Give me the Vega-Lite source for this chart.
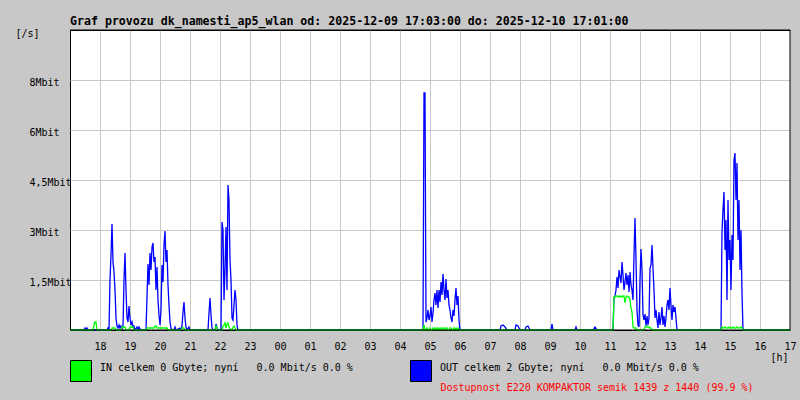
{
"$schema": "https://vega.github.io/schema/vega-lite/v6.json",
"width": 720, "height": 300,
"autosize": {"type": "none"},
"padding": {"left": 70, "top": 30, "right": 10, "bottom": 70},
"background": "#c8c8c8",
"view": {"fill": "#ffffff", "stroke": "#000000", "strokeWidth": 1},
"title": {"text": "Graf provozu dk_namesti_ap5_wlan od: 2025-12-09 17:03:00 do: 2025-12-10 17:01:00", "anchor": "start", "frame": "group", "font": "DejaVu Sans Mono", "fontSize": 11.6, "fontWeight": "bold", "color": "black", "baseline": "alphabetic", "offset": -9},
"data": {"values": [
{"m":0,"out":0,"in":0},{"m":28,"out":0,"in":0},{"m":30,"out":0.06,"in":0},{"m":32,"out":0,"in":0},{"m":34,"out":0.06,"in":0},{"m":36,"out":0,"in":0},
{"m":46,"out":0,"in":0},{"m":48,"out":0,"in":0.15},{"m":50,"out":0,"in":0.24},{"m":52,"out":0,"in":0.24},{"m":54,"out":0,"in":0},
{"m":74,"out":0,"in":0},{"m":76,"out":0.06,"in":0},{"m":78,"out":0,"in":0},{"m":80,"out":1.5,"in":0},{"m":82,"out":2.25,"in":0},{"m":84,"out":3.18,"in":0.06},{"m":86,"out":2.04,"in":0.06},{"m":88,"out":1.74,"in":0.06},{"m":90,"out":1.2,"in":0.06},{"m":92,"out":0.36,"in":0},{"m":94,"out":0.12,"in":0},{"m":96,"out":0.06,"in":0},{"m":98,"out":0.15,"in":0},{"m":100,"out":0.06,"in":0},{"m":102,"out":0.12,"in":0},{"m":104,"out":0.03,"in":0.09},{"m":106,"out":0.09,"in":0.09},{"m":108,"out":1.5,"in":0.09},{"m":110,"out":2.31,"in":0.09},{"m":112,"out":1.2,"in":0},{"m":114,"out":0.36,"in":0},{"m":116,"out":0.24,"in":0},{"m":118,"out":0.72,"in":0},{"m":120,"out":0.36,"in":0.09},{"m":122,"out":0.15,"in":0.09},{"m":124,"out":0.24,"in":0.09},{"m":126,"out":0.09,"in":0.09},{"m":128,"out":0.12,"in":0},{"m":130,"out":0,"in":0},{"m":134,"out":0.09,"in":0},{"m":136,"out":0,"in":0},{"m":138,"out":0.09,"in":0},{"m":142,"out":0,"in":0},
{"m":152,"out":0,"in":0},{"m":154,"out":0.99,"in":0.06},{"m":156,"out":1.98,"in":0.06},{"m":158,"out":1.35,"in":0.06},{"m":160,"out":2.31,"in":0.06},{"m":162,"out":1.8,"in":0.06},{"m":164,"out":2.49,"in":0.06},{"m":166,"out":2.61,"in":0.06},{"m":168,"out":2.04,"in":0.06},{"m":170,"out":2.19,"in":0.12},{"m":172,"out":1.2,"in":0.12},{"m":174,"out":1.89,"in":0.06},{"m":176,"out":0.9,"in":0.06},{"m":178,"out":0.45,"in":0.06},{"m":180,"out":0.15,"in":0.06},{"m":182,"out":0.6,"in":0.06},{"m":184,"out":1.95,"in":0.06},{"m":186,"out":1.44,"in":0.06},{"m":188,"out":2.55,"in":0.06},{"m":190,"out":2.97,"in":0.06},{"m":192,"out":2.04,"in":0.06},{"m":194,"out":2.4,"in":0.06},{"m":196,"out":1.35,"in":0},{"m":198,"out":0.75,"in":0},{"m":200,"out":0.24,"in":0},{"m":202,"out":0.06,"in":0},{"m":204,"out":0,"in":0},{"m":208,"out":0,"in":0},{"m":210,"out":0.09,"in":0},{"m":212,"out":0,"in":0},{"m":220,"out":0.06,"in":0},{"m":222,"out":0,"in":0},{"m":224,"out":0.12,"in":0.06},{"m":226,"out":0.54,"in":0.06},{"m":228,"out":0.84,"in":0.06},{"m":230,"out":0.36,"in":0},{"m":232,"out":0.09,"in":0},{"m":234,"out":0,"in":0},{"m":238,"out":0.09,"in":0},{"m":240,"out":0,"in":0},
{"m":276,"out":0,"in":0},{"m":278,"out":0.51,"in":0},{"m":280,"out":0.96,"in":0},{"m":282,"out":0.45,"in":0},{"m":284,"out":0.06,"in":0},{"m":286,"out":0,"in":0},{"m":290,"out":0,"in":0},{"m":292,"out":0.18,"in":0.12},{"m":294,"out":0.06,"in":0.06},{"m":296,"out":0,"in":0},{"m":302,"out":0,"in":0},{"m":304,"out":3.24,"in":0},{"m":306,"out":3.0,"in":0.12},{"m":308,"out":0.9,"in":0.15},{"m":310,"out":1.8,"in":0.21},{"m":312,"out":3.09,"in":0.06},{"m":314,"out":1.2,"in":0.18},{"m":316,"out":4.35,"in":0.21},{"m":318,"out":3.9,"in":0.09},{"m":320,"out":2.1,"in":0.03},{"m":322,"out":1.5,"in":0},{"m":324,"out":0.36,"in":0},{"m":326,"out":0.3,"in":0.09},{"m":328,"out":0.75,"in":0.12},{"m":330,"out":1.2,"in":0.06},{"m":332,"out":0.9,"in":0},{"m":334,"out":0.15,"in":0},{"m":336,"out":0,"in":0},
{"m":706,"out":0,"in":0},{"m":708,"out":7.11,"in":0.15},{"m":710,"out":7.11,"in":0},{"m":712,"out":0.24,"in":0},{"m":714,"out":0.36,"in":0.06},{"m":716,"out":0.6,"in":0},{"m":718,"out":0.3,"in":0},{"m":720,"out":0.42,"in":0.06},{"m":722,"out":0.69,"in":0},{"m":724,"out":0.24,"in":0},{"m":726,"out":0.51,"in":0.06},{"m":728,"out":0.9,"in":0},{"m":730,"out":1.11,"in":0.06},{"m":732,"out":0.75,"in":0},{"m":734,"out":1.2,"in":0.06},{"m":736,"out":0.66,"in":0.06},{"m":738,"out":1.2,"in":0},{"m":740,"out":0.84,"in":0.06},{"m":742,"out":1.44,"in":0.06},{"m":744,"out":1.05,"in":0},{"m":746,"out":1.68,"in":0.06},{"m":748,"out":1.2,"in":0.06},{"m":750,"out":0.9,"in":0},{"m":752,"out":1.53,"in":0.06},{"m":754,"out":0.96,"in":0.06},{"m":756,"out":1.2,"in":0},{"m":758,"out":0.75,"in":0},{"m":760,"out":0.6,"in":0.06},{"m":762,"out":0.36,"in":0.06},{"m":764,"out":0.24,"in":0},{"m":766,"out":0.6,"in":0},{"m":768,"out":0.42,"in":0.06},{"m":770,"out":0.9,"in":0},{"m":772,"out":1.26,"in":0.06},{"m":774,"out":0.75,"in":0},{"m":776,"out":1.02,"in":0.06},{"m":778,"out":0.3,"in":0},{"m":780,"out":0,"in":0},
{"m":860,"out":0,"in":0},{"m":862,"out":0.12,"in":0},{"m":866,"out":0.15,"in":0},{"m":870,"out":0.09,"in":0},{"m":874,"out":0,"in":0},{"m":890,"out":0,"in":0},{"m":892,"out":0.15,"in":0},{"m":896,"out":0.12,"in":0},{"m":900,"out":0,"in":0},{"m":910,"out":0,"in":0},{"m":912,"out":0.09,"in":0},{"m":916,"out":0.12,"in":0},{"m":920,"out":0,"in":0},{"m":962,"out":0,"in":0},{"m":964,"out":0.18,"in":0},{"m":966,"out":0,"in":0},{"m":1010,"out":0,"in":0},{"m":1012,"out":0.09,"in":0},{"m":1014,"out":0,"in":0},{"m":1046,"out":0,"in":0},{"m":1050,"out":0.09,"in":0},{"m":1054,"out":0,"in":0},
{"m":1086,"out":0,"in":0},{"m":1088,"out":0.96,"in":0.99},{"m":1090,"out":1.02,"in":0.99},{"m":1092,"out":1.2,"in":1.02},{"m":1094,"out":1.59,"in":1.02},{"m":1096,"out":1.26,"in":0.99},{"m":1098,"out":1.8,"in":1.02},{"m":1100,"out":1.59,"in":0.99},{"m":1102,"out":1.41,"in":1.02},{"m":1104,"out":2.04,"in":0.99},{"m":1106,"out":1.65,"in":1.02},{"m":1108,"out":1.2,"in":1.02},{"m":1110,"out":1.44,"in":0.81},{"m":1112,"out":1.71,"in":0.99},{"m":1114,"out":1.35,"in":1.02},{"m":1116,"out":1.65,"in":0.99},{"m":1118,"out":1.14,"in":0.99},{"m":1120,"out":1.74,"in":0.9},{"m":1122,"out":1.35,"in":0.66},{"m":1124,"out":1.2,"in":0.54},{"m":1126,"out":0.9,"in":0.09},{"m":1128,"out":2.25,"in":0.06},{"m":1130,"out":3.36,"in":0.06},{"m":1132,"out":2.1,"in":0.06},{"m":1134,"out":0.6,"in":0},{"m":1136,"out":0.15,"in":0},{"m":1138,"out":0.09,"in":0},{"m":1140,"out":1.5,"in":0},{"m":1142,"out":2.43,"in":0},{"m":1144,"out":1.8,"in":0},{"m":1146,"out":0.45,"in":0},{"m":1148,"out":0.3,"in":0},{"m":1150,"out":0.48,"in":0.09},{"m":1152,"out":0.12,"in":0.09},{"m":1154,"out":0.42,"in":0.12},{"m":1156,"out":0.15,"in":0.09},{"m":1158,"out":0.36,"in":0.09},{"m":1160,"out":1.86,"in":0.06},{"m":1162,"out":1.95,"in":0.06},{"m":1164,"out":2.55,"in":0},{"m":1166,"out":1.86,"in":0},{"m":1168,"out":1.2,"in":0},{"m":1170,"out":0.36,"in":0},{"m":1172,"out":0.6,"in":0},{"m":1174,"out":0.3,"in":0},{"m":1176,"out":0.06,"in":0},{"m":1178,"out":0.54,"in":0},{"m":1180,"out":0.15,"in":0},{"m":1182,"out":0.36,"in":0},{"m":1184,"out":0.69,"in":0},{"m":1186,"out":0.15,"in":0},{"m":1188,"out":0.42,"in":0},{"m":1190,"out":0.09,"in":0},{"m":1192,"out":0.36,"in":0},{"m":1194,"out":0.75,"in":0},{"m":1196,"out":0.9,"in":0},{"m":1198,"out":0.6,"in":0},{"m":1200,"out":1.26,"in":0},{"m":1202,"out":0.72,"in":0},{"m":1204,"out":0.3,"in":0},{"m":1206,"out":0.75,"in":0},{"m":1208,"out":0.54,"in":0},{"m":1210,"out":0.69,"in":0},{"m":1212,"out":0.36,"in":0},{"m":1214,"out":0,"in":0},
{"m":1300,"out":0,"in":0},{"m":1302,"out":0,"in":0},{"m":1304,"out":2.94,"in":0.09},{"m":1306,"out":3.6,"in":0.06},{"m":1308,"out":4.14,"in":0.06},{"m":1310,"out":2.4,"in":0.09},{"m":1312,"out":3.3,"in":0.06},{"m":1314,"out":0.9,"in":0.06},{"m":1316,"out":3.9,"in":0.06},{"m":1318,"out":2.1,"in":0.09},{"m":1320,"out":2.7,"in":0.06},{"m":1322,"out":1.2,"in":0.06},{"m":1324,"out":2.85,"in":0.06},{"m":1326,"out":2.1,"in":0.09},{"m":1328,"out":5.1,"in":0.06},{"m":1330,"out":5.31,"in":0.06},{"m":1332,"out":3.9,"in":0.06},{"m":1334,"out":5.01,"in":0.09},{"m":1336,"out":2.7,"in":0.06},{"m":1338,"out":3.9,"in":0.06},{"m":1340,"out":1.8,"in":0.06},{"m":1342,"out":3.0,"in":0.09},{"m":1344,"out":1.11,"in":0.06},{"m":1346,"out":0,"in":0},{"m":1440,"out":0,"in":0}
]},
"layer": [
{"mark": {"type": "line", "color": "#0000ff", "strokeWidth": 1.3, "interpolate": "linear"},
 "encoding": {
  "x": {"field": "m", "type": "quantitative", "scale": {"domain": [0, 1440], "nice": false, "zero": false},
   "axis": {"orient": "bottom", "values": [60,120,180,240,300,360,420,480,540,600,660,720,780,840,900,960,1020,1080,1140,1200,1260,1320,1380,1440],
    "labelExpr": "((floor(datum.value/60)+17)%24 < 10 ? '0' : '') + ((floor(datum.value/60)+17)%24)",
    "ticks": false, "domain": false, "grid": true, "gridColor": "#c8c8c8", "gridWidth": 1, "gridOpacity": 1,
    "labelFont": "DejaVu Sans Mono", "labelFontSize": 10, "labelColor": "black", "labelPadding": 11, "labelOverlap": false, "labelBound": false, "labelFlush": false,
    "title": "[h]", "titleX": 700, "titleY": 27, "titleAlign": "left", "titleBaseline": "middle", "titleFont": "DejaVu Sans Mono", "titleFontSize": 10, "titleFontWeight": "normal", "titleColor": "black"}},
  "y": {"field": "out", "type": "quantitative", "scale": {"domain": [0, 9], "nice": false},
   "axis": {"orient": "left", "values": [1.5, 3, 4.5, 6, 7.5],
    "labelExpr": "datum.value == 1.5 ? '1,5Mbit' : datum.value == 3 ? '3Mbit' : datum.value == 4.5 ? '4,5Mbit' : datum.value == 6 ? '6Mbit' : '8Mbit'",
    "ticks": false, "domain": false, "grid": true, "gridColor": "#c8c8c8", "gridWidth": 1, "gridOpacity": 1,
    "labelAlign": "left", "labelPadding": 41, "labelBaseline": "middle", "labelOffset": 2, "labelOverlap": false, "labelBound": false,
    "labelFont": "DejaVu Sans Mono", "labelFontSize": 10, "labelColor": "black",
    "title": "[/s]", "titleAngle": 0, "titleX": -55, "titleY": 3, "titleAlign": "left", "titleBaseline": "middle", "titleFont": "DejaVu Sans Mono", "titleFontSize": 10, "titleFontWeight": "normal", "titleColor": "black"}}}},
{"mark": {"type": "line", "color": "#00ff00", "strokeWidth": 1.3, "interpolate": "linear"},
 "encoding": {
  "x": {"field": "m", "type": "quantitative",
   "axis": {"orient": "top", "labels": false, "ticks": false, "domain": false, "grid": false,
    "title": "Dostupnost E220 KOMPAKTOR semik 1439 z 1440 (99.9 %)", "titleColor": "#ff0000", "titleFont": "DejaVu Sans Mono", "titleFontSize": 10, "titleFontWeight": "normal",
    "titleX": 370, "titleY": 357, "titleAlign": "left", "titleBaseline": "middle", "titleAngle": 0}},
  "y": {"field": "in", "type": "quantitative",
   "axis": {"orient": "left", "values": [1.5, 3, 4.5, 6, 7.5],
    "labelExpr": "datum.value == 1.5 ? '1,5Mbit' : datum.value == 3 ? '3Mbit' : datum.value == 4.5 ? '4,5Mbit' : datum.value == 6 ? '6Mbit' : '8Mbit'",
    "ticks": false, "domain": false, "grid": true, "gridColor": "#c8c8c8", "gridWidth": 1, "gridOpacity": 1,
    "labelAlign": "left", "labelPadding": 41, "labelBaseline": "middle", "labelOffset": 2, "labelOverlap": false, "labelBound": false,
    "labelFont": "DejaVu Sans Mono", "labelFontSize": 10, "labelColor": "black",
    "title": "[/s]", "titleAngle": 0, "titleX": -55, "titleY": 3, "titleAlign": "left", "titleBaseline": "middle", "titleFont": "DejaVu Sans Mono", "titleFontSize": 10, "titleFontWeight": "normal", "titleColor": "black"}}}},
{"data": {"values": [{"v": 0}, {"v": 9}]},
 "mark": {"type": "rule", "color": "black", "strokeWidth": 1},
 "encoding": {"y": {"field": "v", "type": "quantitative",
   "axis": {"orient": "left", "values": [1.5, 3, 4.5, 6, 7.5],
    "labelExpr": "datum.value == 1.5 ? '1,5Mbit' : datum.value == 3 ? '3Mbit' : datum.value == 4.5 ? '4,5Mbit' : datum.value == 6 ? '6Mbit' : '8Mbit'",
    "ticks": false, "domain": false, "grid": true, "gridColor": "#c8c8c8", "gridWidth": 1, "gridOpacity": 1,
    "labelAlign": "left", "labelPadding": 41, "labelBaseline": "middle", "labelOffset": 2, "labelOverlap": false, "labelBound": false,
    "labelFont": "DejaVu Sans Mono", "labelFontSize": 10, "labelColor": "black",
    "title": "[/s]", "titleAngle": 0, "titleX": -55, "titleY": 3, "titleAlign": "left", "titleBaseline": "middle", "titleFont": "DejaVu Sans Mono", "titleFontSize": 10, "titleFontWeight": "normal", "titleColor": "black"}}}},
{"data": {"values": [{"h": 1440}]},
 "mark": {"type": "rule", "color": "black", "strokeWidth": 1},
 "encoding": {"x": {"field": "h", "type": "quantitative", "axis": null}}},
{"transform": [{"filter": "false"}],
 "mark": {"type": "square", "stroke": "black", "strokeWidth": 1, "opacity": 1},
 "encoding": {"fill": {"field": "s", "type": "nominal",
   "scale": {"domain": ["IN celkem 0 Gbyte; nyní\u00a0\u00a0\u00a00.0 Mbit/s 0.0 %"], "range": ["#00ff00"]},
   "legend": {"orient": "none", "legendX": 0, "legendY": 330, "title": null, "symbolType": "square", "symbolSize": 441, "symbolStrokeColor": "black", "symbolStrokeWidth": 1, "symbolOpacity": 1,
     "labelFont": "DejaVu Sans Mono", "labelFontSize": 10, "labelColor": "black", "labelOffset": 8, "labelLimit": 500, "labelBaseline": "alphabetic", "padding": 0}}}},
{"transform": [{"filter": "false"}],
 "mark": {"type": "square", "stroke": "black", "strokeWidth": 1, "opacity": 1},
 "encoding": {"fill": {"field": "s", "type": "nominal",
   "scale": {"domain": ["OUT celkem 2 Gbyte; nyní\u00a0\u00a0\u00a00.0 Mbit/s 0.0 %"], "range": ["#0000ff"]},
   "legend": {"orient": "none", "legendX": 340, "legendY": 330, "title": null, "symbolType": "square", "symbolSize": 441, "symbolStrokeColor": "black", "symbolStrokeWidth": 1, "symbolOpacity": 1,
     "labelFont": "DejaVu Sans Mono", "labelFontSize": 10, "labelColor": "black", "labelOffset": 8, "labelLimit": 500, "labelBaseline": "alphabetic", "padding": 0}}}}
],
"resolve": {"axis": {"x": "independent"}, "scale": {"fill": "independent"}, "legend": {"fill": "independent"}}
}
